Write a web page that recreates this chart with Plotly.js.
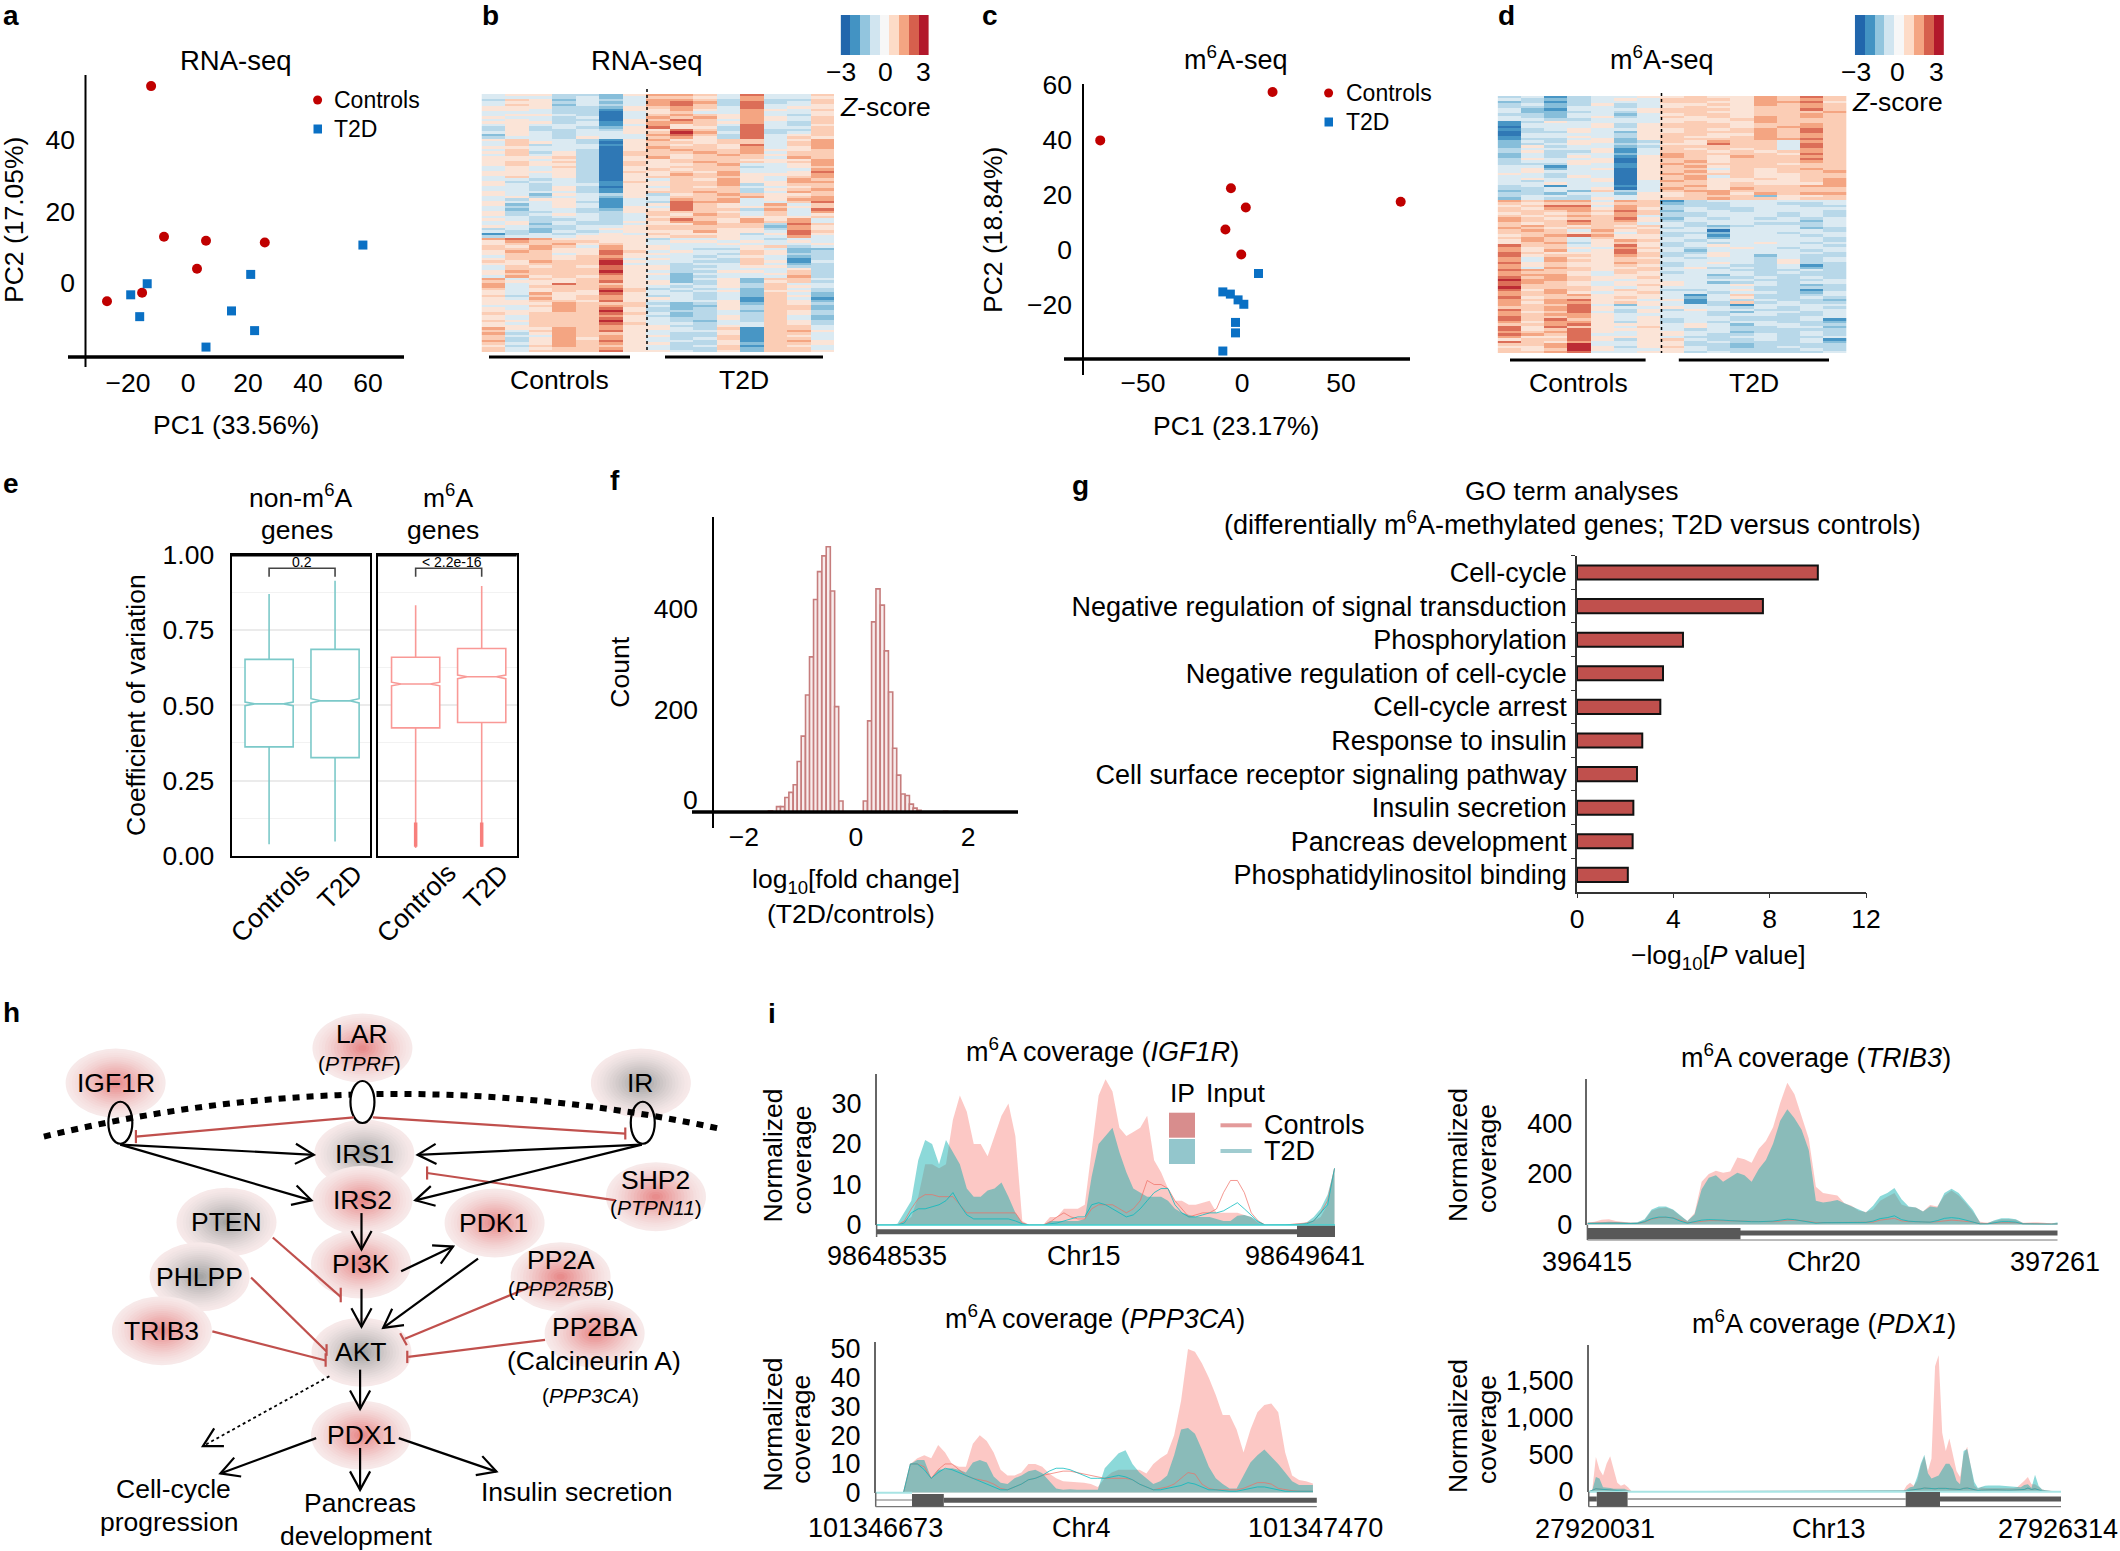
<!DOCTYPE html>
<html>
<head>
<meta charset="utf-8">
<script src="https://cdn.plot.ly/plotly-3.0.1.min.js"></script>
<style>
    html, body { margin: 0; padding: 0; background: #fff; }
    #fig { width: 2120px; height: 1551px; }
</style>
</head>
<body>
<div id="fig"></div>
<script>
// panel a, PCA of RNA-seq
const a_controls_pc1 = [-12.3, -8, 6, 25.6, 3, -15.3, -27];
const a_controls_pc2 = [55, 12.9, 11.8, 11.3, 4, -2.7, -5.1];
const a_t2d_pc1 = [58.3, 20.9, -13.6, -19.1, 14.5, -16.1, 22.2, 6];
const a_t2d_pc2 = [10.6, 2.4, -0.2, -3.3, -7.8, -9.4, -13.3, -17.9];

// panel c, PCA of m6A-seq
const c_controls_pc1 = [15.4, -71.6, -5.6, 1.9, 80.1, -8.4, -0.4];
const c_controls_pc2 = [57.5, 39.9, 22.5, 15.5, 17.6, 7.5, -1.6];
const c_t2d_pc1 = [8.3, -9.7, -5.9, -2, 0.9, -3.3, -3.3, -9.7];
const c_t2d_pc2 = [-8.5, -15.2, -16, -18.1, -19.7, -26.3, -30.1, -36.7];

// heatmaps, one digit per sample (index into z_levels), 7 controls then 8 T2D
const z_levels = [-2.7, -2.2, -1.6, -1.05, -0.55, 0.5, 0.95, 1.5, 2.1, 2.8];
const b_rows = [
    "4553325 77648446", "4443424 66547445", "3652434 77637336", "4553424 78738346",
    "4652434 78638445", "5553325 67648455", "5543315 57547546", "4443304 56447445",
    "4554304 67657435", "5443404 76757546", "4543305 68647546", "5553415 77657436",
    "4544414 75648435", "3534325 85538446", "3533435 58638336", "4543445 69748346",
    "2543444 78638456", "3443544 67538465", "5644315 75566457", "4654305 66566467",
    "4634415 65658467", "5544405 76657457", "4644305 67667556", "5635306 66767466",
    "4645306 65676566", "5556305 75666476", "5545305 56665557", "5656306 56766567",
    "5655306 55674457", "4546305 56663456", "4545305 65664447", "5555306 56574458",
    "5545305 57675557", "4645305 66665467", "4434305 46575476", "5344316 56675577",
    "5434415 56673566", "4435305 46564456", "4435315 56663567", "5444315 66763476",
    "5425435 35676556", "4534425 46667567", "4355414 47674577", "5445314 38774468",
    "5245414 58654746", "4345415 48655656", "4244325 58663748", "5334335 66654647",
    "5345434 65764645", "4434434 56665556", "5433434 68657574", "4534335 57757674",
    "4524334 55766386", "5433445 66666275", "3423455 66655375", "4324345 55755486",
    "1343454 65553585", "3444555 56654474", "7875555 34454344", "5766655 45545454",
    "5667565 44454445", "6576475 54445634", "6675575 54335422", "5765586 45446523",
    "5664585 54436533", "4665675 44345423", "5665684 54436413", "6576695 44336514",
    "5566694 43446423", "4656585 53345533", "4666685 53444453", "5766695 43355463",
    "5666685 52444563", "4756575 42344473", "7465675 42452664", "6555685 52352563",
    "7458665 54353644", "7466675 43453654", "6456686 34342643", "5456596 43452553",
    "5475585 44342642", "6365675 34342652", "5475675 54341641", "5566585 44451652",
    "5557666 32352653", "4467676 42253662", "5457685 32353662", "5557695 33342653",
    "6566686 42343653", "5466675 32353642", "5466685 43353642", "6566695 43243653",
    "5466686 44344653", "5566675 53354664", "7557675 54361664", "6467685 44451675",
    "7357665 43351664", "6447675 53361654", "6357575 43461664", "7357685 44351675",
    "6457675 53352665", "5367665 43461654", "6456675 43362664", "6466685 54352665"
];
const d_rows = [
    "3413445 56557686", "4323454 66657676", "2313444 66557785", "3423534 55657676",
    "3324434 56556676", "4214445 66656686", "4223435 66556667", "3324424 56656676",
    "4324534 65657676", "4433444 55567666", "1354444 56557666", "1444535 66656676",
    "0444535 66656776", "1345445 56567686", "0335425 56667686", "0444435 66557676",
    "1445435 65567676", "1334525 66667786", "2435523 65766476", "2345434 55866486",
    "2534423 66666486", "3444514 65656476", "3533514 66565676", "2434424 76666586",
    "2435415 76576676", "3544505 66566686", "3445505 67566676", "3335415 76666566",
    "4414415 67566666", "4524505 66465676", "4544405 67565667", "5434405 76665566",
    "4435405 67465566", "4544505 67556567", "4344504 76555567", "4454404 66565557",
    "3414414 67566677", "3344504 76576666", "2342634 67766666", "3324425 56757677",
    "3443445 56662556", "2433545 66766566", "7677476 13444444", "6566566 23344334",
    "5688476 33344433", "6577575 34334444", "6667686 24434443", "5656576 33444343",
    "6567674 33444343", "7656685 24343434", "7668675 34444424", "6567664 43443334",
    "6765656 43234434", "7656665 34344423", "6764756 44044443", "6665646 33244344",
    "5678755 34144434", "6764655 44244443", "5764576 43444443", "5673565 34345434",
    "8664585 34544443", "7565476 43454344", "7574585 42444434", "8655586 33544443",
    "8566576 34542433", "7475565 43443434", "7476566 44443534", "8565576 34543533",
    "7565565 34433413", "7476556 45343423", "8766566 44433343", "7665465 34443433",
    "7775455 44243333", "8676556 44334343", "9776545 44443334", "8765455 54234344",
    "8665456 54454323", "9666545 44443333", "8576565 33453313", "7675456 44344324",
    "7667555 41463334", "8566565 42453343", "7678554 51434332", "7577565 41363433",
    "7668425 44314444", "6678544 54434343", "8678535 35443344", "7568435 44324434",
    "7677544 44344334", "8667545 44433344", "8686545 34433341", "7577535 34344332",
    "6678555 45424433", "8586546 45433442", "8568555 43433333", "7678545 54423343",
    "8768445 54334343", "7558555 43344334", "5668535 64334341", "8657445 53433342",
    "6679445 53323333", "5579535 64323433", "6569544 54333343", "6678445 53433334"
];
const zscore_bands = [-3, -2.25, -1.5, -0.75, 0, 0.75, 1.5, 2.25, 3];

// panel e, coefficient of variation boxes (controls, T2D)
const e_non_q1 = [0.362, 0.326];
const e_non_median = [0.505, 0.515];
const e_non_q3 = [0.653, 0.686];
const e_non_low = [0.038, 0.047];
const e_non_high = [0.87, 0.914];
const e_non_notch = [0.006, 0.007];
const e_m6a_q1 = [0.425, 0.443];
const e_m6a_median = [0.571, 0.595];
const e_m6a_q3 = [0.66, 0.689];
const e_m6a_low = [0.026, 0.03];
const e_m6a_high = [0.833, 0.897];
const e_m6a_notch = [0.006, 0.006];

// panel f, histogram of log10 fold change
const f_bins = [-1.524, -1.381, -1.31, -1.232, -1.16, -1.083, -1.012, -0.94, -0.863, -0.792, -0.72, -0.649,
    -0.571, -0.494, -0.417, -0.345, -0.268, 0.167, 0.244, 0.315, 0.393, 0.47, 0.542, 0.619, 0.69, 0.762,
    0.839, 0.917, 0.988, 1.054, 1.125, 1.6];
const f_counts = [2, 10, 10, 28, 38, 53, 99, 149, 230, 305, 418, 473, 504, 522, 435, 207, 21,
    21, 179, 374, 439, 407, 317, 236, 125, 72, 35, 32, 15, 7, 3, 1];

// panel g, GO terms
const g_terms = ["Cell-cycle", "Negative regulation of signal transduction", "Phosphorylation",
    "Negative regulation of cell-cycle", "Cell-cycle arrest", "Response to insulin",
    "Cell surface receptor signaling pathway", "Insulin secretion", "Pancreas development",
    "Phosphatidylinositol binding"];
const g_values = [10.0, 7.72, 4.4, 3.57, 3.46, 2.71, 2.49, 2.34, 2.31, 2.11];

// panel i, coverage per position bin
const igf1r_window = [98648535, 98649641];
const igf1r_ip_controls = [0, 0, 0, 0, 1, 2, 7, 15, 15, 14, 15, 26, 32, 28, 20, 20, 17, 22, 27, 30, 22, 1, 0, 0, 0,
    2, 2, 4, 4, 4, 5, 19, 32, 36, 33, 24, 22, 23, 24, 27, 16, 13, 9, 6, 6, 5, 5, 5.5, 6, 3, 3, 3, 3, 2.5, 2, 0.5,
    0, 0, 0, 0, 0.2, 0.2, 0.3, 1, 2, 5, 14];
const igf1r_ip_t2d = [0, 0, 0, 0.3, 3, 6, 16, 21, 20, 15, 21, 18, 15, 9, 7, 7, 8.5, 9, 10.5, 7, 3, 0.5, 0, 0, 0,
    1, 1, 1, 1, 1, 1.5, 12, 20, 22, 24, 18, 13, 9, 8, 7, 7, 7, 6, 4, 3, 2.5, 2, 2, 2, 1.5, 1, 1, 2.3, 2.5, 2, 1,
    0, 0, 0, 0, 0.2, 0.2, 0.7, 2, 4, 7.5, 14];
const igf1r_input_controls = [0, 0, 0, 0, 1, 4, 6.5, 7.5, 7.5, 7, 7, 7, 5, 3, 3, 3, 3, 3, 3, 3, 3, 0.5, 0, 0, 0,
    0.7, 2, 3, 2, 1.5, 1.5, 4, 5, 5, 5, 4, 3, 4, 6, 11, 10, 10, 9, 6, 4, 2, 2.5, 3, 3, 4, 8, 11, 11, 8, 3, 1,
    0, 0, 0, 0, 0.2, 0.3, 0.5, 1, 3, 6, 14];
const igf1r_input_t2d = [0, 0, 0, 0, 0.5, 3, 4, 4, 4.5, 5, 6, 8, 5, 2.5, 1.5, 1.5, 1.5, 1.5, 1.5, 1.5, 1, 0.3, 0, 0, 0,
    0.3, 0.5, 1, 1.5, 2, 2, 5, 5.5, 5, 4, 3, 2, 2.5, 4, 6, 8, 9, 9, 5, 3, 2, 2, 2.5, 3, 3, 3.5, 4.5, 5.5, 4, 2.5, 0.8,
    0, 0, 0, 0, 0.1, 0.2, 0.3, 1, 3, 5, 14];

const trib3_window = [396415, 397261];
const trib3_ip_controls = [8, 12, 20, 22, 15, 13, 8, 9, 18, 55, 65, 68, 58, 35, 15, 45, 170, 200, 213, 205, 210, 265,
    258, 245, 300, 330, 385, 480, 560, 515, 430, 340, 150, 125, 120, 115, 85, 75, 55, 50, 60, 95, 110, 125, 80, 70,
    68, 52, 78, 72, 115, 135, 115, 85, 50, 12, 8, 15, 22, 22, 20, 8, 10, 10, 8, 5, 6];
const trib3_ip_t2d = [8, 8, 10, 12, 12, 10, 8, 10, 22, 60, 72, 72, 60, 38, 15, 40, 140, 185, 195, 170, 187, 205, 195,
    170, 220, 255, 320, 410, 456, 420, 375, 295, 95, 88, 92, 98, 85, 72, 58, 48, 75, 112, 125, 145, 100, 72, 68, 52,
    72, 68, 125, 142, 125, 92, 58, 8, 6, 18, 25, 25, 22, 7, 5, 6, 5, 5, 10];
const trib3_input_controls = [6, 7, 7, 7, 7, 6, 5, 5, 10, 22, 28, 29, 27, 16, 8, 10, 14, 16, 16, 16, 15, 14, 14, 13, 12,
    12, 12, 14, 18, 18, 16, 13, 8, 8, 8, 8, 10, 10, 10, 8, 10, 18, 22, 25, 15, 12, 12, 10, 10, 12, 16, 18, 16, 14, 10,
    4, 4, 6, 8, 8, 8, 4, 3, 3, 3, 3, 3];
const trib3_input_t2d = [5, 6, 6, 6, 6, 5, 5, 5, 12, 24, 30, 30, 26, 14, 6, 12, 18, 20, 20, 18, 16, 14, 14, 12, 12, 13,
    14, 18, 22, 20, 16, 12, 6, 8, 8, 8, 10, 9, 9, 9, 14, 24, 28, 35, 20, 14, 12, 10, 10, 16, 25, 28, 25, 18, 10, 3, 3,
    8, 12, 12, 10, 3, 2, 2, 2, 2, 3];

const ppp3ca_window = [101346673, 101347470];
const ppp3ca_ip_controls = [0, 0, 0, 0, 0, 10, 12, 13, 12, 16.6, 14, 10, 9, 9, 17, 20, 18, 14, 8, 6, 6, 7, 10, 10, 9,
    6.7, 5, 4, 3.8, 3.8, 3.5, 3, 2, 5, 7, 8, 8, 8, 8, 6.7, 10, 12, 13.5, 20, 32, 50, 49, 45, 40, 34, 27, 27, 22, 14,
    22, 28, 30.5, 31, 28, 14, 6, 4.4, 4, 3.2];
const ppp3ca_ip_t2d = [0, 0, 0, 0, 0, 10, 11.4, 11.4, 5, 8, 8.3, 8.5, 8, 7, 10.5, 11.4, 10.5, 5.6, 3.5, 3, 5, 6, 7.5, 8,
    6.8, 4, 1.5, 1, 1.2, 1, 1, 1, 1, 8.5, 11, 13.7, 14.8, 10, 7, 5, 3, 4, 6, 13, 22, 22.5, 20.5, 15, 9, 5, 3, 1.5, 1.5,
    6, 10.5, 13, 15, 12.5, 10, 7, 4, 2.7, 2.7, 2.7];
const ppp3ca_input_controls = [0, 0, 0, 0, 0, 10, 10, 9, 5, 8, 10, 10, 8, 6, 5, 4.5, 4, 3, 1.5, 1, 2, 3, 4.5, 5, 6, 6.5,
    7, 7.5, 7.5, 7, 6.5, 6, 5.5, 5, 5, 5, 5, 4.5, 3, 2, 1, 1.5, 2, 3, 5, 7, 6.5, 3, 1.5, 1, 1, 1, 1, 1.5, 2.5, 3.5, 3.5,
    3, 1.5, 1, 0.7, 0.5, 0.5, 0.5];
const ppp3ca_input_t2d = [0, 0, 0, 0, 0, 10, 10, 8, 5, 7, 8.5, 8, 7, 6, 5, 4, 3, 2, 1, 1, 2, 3, 4.5, 5, 6, 7.5, 8.5, 8.5,
    8, 7, 6, 5, 5, 5, 5.5, 6, 5.5, 4.5, 3, 2, 1, 1, 1.5, 2, 2.5, 3.5, 3, 2, 1, 1, 0.7, 0.5, 0.5, 1, 1.5, 2, 2, 1.5, 1,
    0.5, 0.5, 0.5, 0.5, 0.5];

const pdx1_window = [27920031, 27926314];
const pdx1_gap_bins = 76;    // no coverage across the intron
const pdx1_exon1_controls = [0, 30, 470, 300, 220, 380, 480, 300, 120, 80, 100, 60, 5];
const pdx1_exon1_t2d = [0, 20, 200, 180, 60, 60, 50, 40, 40, 40, 40, 20, 5];
const pdx1_exon1_input = [0, 20, 40, 35, 30, 30, 25, 20, 15, 15, 10, 5, 0];
const pdx1_exon2_controls = [80, 120, 80, 150, 350, 480, 280, 450, 1700, 1850, 800, 550, 720, 500, 280, 200, 500, 610,
    350, 80, 40, 60, 50, 50, 45, 50, 45, 50, 40, 45, 50, 60, 100, 150, 200, 100, 100, 60, 30, 20, 20, 10, 0];
const pdx1_exon2_t2d = [30, 60, 70, 200, 380, 500, 250, 180, 200, 220, 300, 380, 380, 300, 150, 100, 550, 580, 350, 130,
    50, 70, 80, 85, 90, 85, 85, 80, 70, 75, 60, 60, 60, 90, 100, 50, 230, 80, 30, 20, 10, 10, 0];
const pdx1_exon2_input = [10, 20, 25, 30, 40, 50, 45, 40, 40, 45, 50, 45, 40, 35, 30, 30, 45, 50, 40, 25, 15, 20, 25, 25,
    25, 25, 20, 20, 20, 20, 20, 20, 25, 30, 50, 30, 40, 20, 10, 5, 5, 0, 0];

const W = 2120, H = 1551;
const FONT = "Liberation Sans";
const BASE = 26.5;
const RED = "#c00000", BLUE = "#0a70c4";
const OVERLAY = 15;   // hidden full-size axes in figure pixels, for text and the pathway

let traces = [];
let shapes = [];
let annotations = [];
let layout = {
    width: W, height: H,
    margin: { l: 0, r: 0, t: 0, b: 0 },
    paper_bgcolor: "#fff", plot_bgcolor: "rgba(0,0,0,0)",
    showlegend: false,
    font: { family: FONT, size: BASE, color: "#000" },
    shapes: shapes,
    annotations: annotations,
};

function axis_key(letter, n) { return letter + "axis" + (n == 1 ? "" : n); }
function axis_id(letter, n) { return letter + (n == 1 ? "" : n); }

function add_axes(n, left, top, right, bottom, x_settings, y_settings)
{
    layout[axis_key("x", n)] = Object.assign({
        domain: [left / W, right / W], anchor: axis_id("y", n), zeroline: false, showgrid: false, ticks: "",
    }, x_settings);
    layout[axis_key("y", n)] = Object.assign({
        domain: [1 - bottom / H, 1 - top / H], anchor: axis_id("x", n), zeroline: false, showgrid: false, ticks: "",
    }, y_settings);
}

function text(x, y, str, settings)
{
    settings = settings || {};
    annotations.push({
        xref: "x" + OVERLAY, yref: "y" + OVERLAY, x: x, y: y, text: str, showarrow: false,
        xanchor: settings.anchor || "center", yanchor: "middle", textangle: settings.angle || 0,
        font: { family: FONT, size: settings.size || BASE, color: "#000" }, borderpad: 0,
    });
}

function px_shape(shape)
{
    shape.xref = "x" + OVERLAY;
    shape.yref = "y" + OVERLAY;
    shapes.push(shape);
}

function line(x0, y0, x1, y1, color, width, dash)
{
    px_shape({ type: "line", x0, y0, x1, y1, line: { color, width, dash: dash || "solid" } });
}

function rect(x0, y0, x1, y1, color)
{
    px_shape({ type: "rect", x0, y0, x1, y1, fillcolor: color, line: { width: 0 } });
}

function ellipse(cx, cy, rx, ry, fill, stroke, stroke_width)
{
    px_shape({
        type: "circle", x0: cx - rx, x1: cx + rx, y0: cy - ry, y1: cy + ry,
        fillcolor: fill, line: { color: stroke || fill, width: stroke_width || 0 },
    });
}

// ---------- PCA panels ----------
function pca_panel(n, controls_x, controls_y, t2d_x, t2d_y)
{
    traces.push({ type: "scatter", mode: "markers", x: controls_x, y: controls_y, xaxis: axis_id("x", n), yaxis: axis_id("y", n),
        marker: { symbol: "circle", size: 10, color: RED } });
    traces.push({ type: "scatter", mode: "markers", x: t2d_x, y: t2d_y, xaxis: axis_id("x", n), yaxis: axis_id("y", n),
        marker: { symbol: "square", size: 9, color: BLUE } });
}

add_axes(1, 86, 75, 404, 357,
    { range: [-34, 72], tickvals: [-20, 0, 20, 40, 60], ticklabelstandoff: 7, tickfont: { size: BASE } },
    { range: [-20.67, 58.1], tickvals: [0, 20, 40], ticklabelstandoff: 10, tickfont: { size: BASE } });
pca_panel(1, a_controls_pc1, a_controls_pc2, a_t2d_pc1, a_t2d_pc2);
line(68, 357, 404, 357, "#000", 3.5);
line(85.5, 75, 85.5, 367, "#000", 2);
text(236, 60, "RNA-seq", { size: 27.5 });
text(236, 425, "PC1 (33.56%)");
text(14, 220, "PC2 (17.05%)", { angle: -90 });
ellipse(317.6, 100, 4.5, 4.5, RED);
rect(313.5, 124.5, 322, 133.5, BLUE);
text(333, 100, "Controls", { anchor: "left", size: 23 });
text(333, 129, "T2D", { anchor: "left", size: 23 });

add_axes(3, 1083, 84, 1410, 359,
    { range: [-80.3, 84.8], tickvals: [-50, 0, 50], ticklabelstandoff: 5, tickfont: { size: BASE } },
    { range: [-39.6, 60.4], tickvals: [-20, 0, 20, 40, 60], ticklabelstandoff: 10, tickfont: { size: BASE } });
pca_panel(3, c_controls_pc1, c_controls_pc2, c_t2d_pc1, c_t2d_pc2);
line(1064, 359, 1410, 359, "#000", 3.5);
line(1083, 84, 1083, 375, "#000", 2);
text(1236, 58, "m<sup>6</sup>A-seq", { size: 27 });
text(1236, 426, "PC1 (23.17%)");
text(993, 230, "PC2 (18.84%)", { angle: -90 });
ellipse(1328.6, 93, 4.5, 4.5, RED);
rect(1324.5, 117.5, 1333, 126.5, BLUE);
text(1345, 93, "Controls", { anchor: "left", size: 23 });
text(1345, 122, "T2D", { anchor: "left", size: 23 });

// ---------- heatmaps ----------
const RDBU = [[0, "#2166ac"], [0.125, "#4393c3"], [0.25, "#92c5de"], [0.375, "#d1e5f0"], [0.5, "#f7f7f7"],
    [0.625, "#fddbc7"], [0.75, "#f4a582"], [0.875, "#d6604d"], [1, "#b2182b"]];

function digits_to_z(rows)
{
    return rows.map(row => row.replace(" ", "").split("").map(d => z_levels[Number(d)]));
}

function heatmap_panel(n, left, top, right, bottom, rows)
{
    let z = digits_to_z(rows);
    add_axes(n, left, top, right, bottom,
        { visible: false, range: [-0.5, 14.5] },
        { visible: false, range: [z.length - 0.5, -0.5] });
    traces.push({ type: "heatmap", z: z, xaxis: axis_id("x", n), yaxis: axis_id("y", n),
        colorscale: RDBU, zmin: -3, zmax: 3, showscale: false, xgap: 0, ygap: 0 });
}

function zscore_bar(n, left, right, tick_x, label_y)
{
    add_axes(n, left, 15, right, 55,
        { visible: false, range: [-0.5, 8.5] },
        { visible: false, range: [-0.5, 0.5] });
    traces.push({ type: "heatmap", z: [zscore_bands], xaxis: axis_id("x", n), yaxis: axis_id("y", n),
        colorscale: RDBU, zmin: -3, zmax: 3, showscale: false });
    text(tick_x[0], 72, "\u22123");
    text(tick_x[1], 72, "0");
    text(tick_x[2], 72, "3");
    text(tick_x[1], label_y, "<i>Z</i>-score");
}

heatmap_panel(2, 481.5, 94, 834, 352, b_rows);
zscore_bar(13, 840.6, 929, [841, 885, 923.5], 107);
line(647, 89, 647, 350, "#000", 1.5, "dot");
text(647, 60, "RNA-seq", { size: 27.5 });
line(489, 357, 630, 357, "#000", 3);
line(665, 357, 823, 357, "#000", 3);
text(559, 380, "Controls");
text(744, 380, "T2D");

heatmap_panel(4, 1497.6, 96, 1846.5, 353, d_rows);
zscore_bar(14, 1854.8, 1944, [1856, 1897.5, 1936], 102);
line(1661.5, 93, 1661.5, 353, "#000", 1.5, "dot");
text(1661.5, 58, "m<sup>6</sup>A-seq", { size: 27 });
line(1510, 360, 1645.6, 360, "#000", 3);
line(1678.8, 360, 1829, 360, "#000", 3);
text(1578, 383, "Controls");
text(1754, 383, "T2D");

// ---------- panel e, boxes ----------
function box_panel(n, left, right, q1, median, q3, low, high, notch, color, y_settings)
{
    add_axes(n, left, 555, right, 855.7,
        { range: [-0.57, 1.53], tickvals: [0, 1], showticklabels: false, showline: true, mirror: true, linecolor: "#000", linewidth: 2 },
        Object.assign({
            range: [0, 1], tickvals: [0, 0.25, 0.5, 0.75, 1], showgrid: true, gridcolor: "#ebebeb", gridwidth: 2,
            minor: { tickvals: [0.125, 0.375, 0.625, 0.875], showgrid: true, gridcolor: "#f2f2f2", gridwidth: 1 },
            showline: true, mirror: true, linecolor: "#000", linewidth: 2,
        }, y_settings));
    traces.push({
        type: "box", x: [0, 1], q1: q1, median: median, q3: q3, lowerfence: low, upperfence: high,
        notched: true, notchspan: notch, notchwidth: 0.2, width: 0.73, whiskerwidth: 0,
        boxpoints: false, fillcolor: "#fff", line: { color: color, width: 1.6 },
        xaxis: axis_id("x", n), yaxis: axis_id("y", n),
    });
}

box_panel(5, 231.5, 370, e_non_q1, e_non_median, e_non_q3, e_non_low, e_non_high, e_non_notch, "#7cc9c9",
    { tickformat: ".2f", ticklabelstandoff: 10, tickfont: { size: BASE } });
box_panel(6, 378, 516.7, e_m6a_q1, e_m6a_median, e_m6a_q3, e_m6a_low, e_m6a_high, e_m6a_notch, "#f99996",
    { showticklabels: false });

// outlier runs at the foot of the m6A whiskers
traces.push({ type: "scatter", mode: "lines", x: [0, 0], y: [0.03, 0.11], xaxis: "x6", yaxis: "y6", line: { color: "#f77f7c", width: 3.5 } });
traces.push({ type: "scatter", mode: "lines", x: [1, 1], y: [0.03, 0.11], xaxis: "x6", yaxis: "y6", line: { color: "#f77f7c", width: 3.5 } });

function bracket(n, label, label_x)
{
    shapes.push({
        type: "path", xref: axis_id("x", n), yref: axis_id("y", n), path: "M 0 0.928 L 0 0.956 L 1 0.956 L 1 0.928",
        line: { color: "#444", width: 1.6 },
    });
    text(label_x, 561.5, label, { size: 14 });
}
bracket(5, "0.2", 302);
bracket(6, "&lt; 2.2e-16", 452);
line(231.5, 555, 370, 555, "#000", 3);
line(378, 555, 516.7, 555, "#000", 3);

text(136, 705, "Coefficient of variation", { angle: -90 });
text(300, 496, "non-m<sup>6</sup>A");
text(297, 530, "genes");
text(448, 496, "m<sup>6</sup>A");
text(443, 530, "genes");
text(270, 903, "Controls", { angle: -45 });
text(340, 887, "T2D", { angle: -45 });
text(416.5, 903, "Controls", { angle: -45 });
text(486, 887, "T2D", { angle: -45 });

// ---------- panel f, histogram ----------
add_axes(7, 713, 517, 1018, 811.7,
    { range: [-2.55, 2.89], tickvals: [-2, 0, 2], ticklabelstandoff: 7, tickfont: { size: BASE } },
    { range: [0, 580.7], tickvals: [200, 400], ticklabelstandoff: 14, tickfont: { size: BASE } });
traces.push({ type: "bar", x: f_bins, y: f_counts, width: 0.0732, xaxis: "x7", yaxis: "y7",
    marker: { color: "#f8ecec", line: { color: "#c67d7d", width: 1.6 } } });
line(692, 812, 1018, 812, "#000", 3.5);
line(713, 517, 713, 828, "#000", 2);
text(698.5, 800, "0", { anchor: "right" });
text(620, 672.7, "Count", { angle: -90 });
text(855.6, 881, "log<sub>10</sub>[fold change]");
text(851, 914, "(T2D/controls)");

// ---------- panel g, GO terms ----------
add_axes(8, 1577, 555.7, 1866, 891.7,
    { range: [0, 12], tickvals: [0, 4, 8, 12], ticks: "outside", ticklen: 5, tickcolor: "#333", showline: true, linecolor: "#333", linewidth: 1.5,
      ticklabelstandoff: -2, tickfont: { size: BASE } },
    { type: "category", autorange: "reversed", tickson: "boundaries", ticks: "outside", ticklen: 4, tickcolor: "#333",
      showline: true, linecolor: "#333", linewidth: 1.5, ticklabelstandoff: 3, tickfont: { size: 27 } });
traces.push({ type: "bar", orientation: "h", y: g_terms, x: g_values, width: 0.42, xaxis: "x8", yaxis: "y8",
    marker: { color: "#c0504d", line: { color: "#111", width: 2 } } });
text(1572.4, 491, "GO term analyses");
text(1572.4, 523, "(differentially m<sup>6</sup>A-methylated genes; T2D versus controls)", { size: 27 });
text(1718, 957, "\u2212log<sub>10</sub>[<i>P</i> value]");

// ---------- panel h, pathway ----------
const NODE_RED = [232, 140, 140], NODE_GRAY = [165, 165, 165], NODE_EDGE = [247, 233, 233];

function node(cx, cy, center)
{
    let steps = 16;
    for (let i = 0; i < steps; i++)
    {
        let t = i / (steps - 1);
        let c = NODE_EDGE.map((edge, k) => Math.round(edge + (center[k] - edge) * Math.pow(t, 1.3)));
        ellipse(cx, cy, 50 * (1 - 0.92 * t), 34.5 * (1 - 0.92 * t), "rgb(" + c.join(",") + ")");
    }
}

// zoomed panel coordinates to figure pixels
function hx(x) { return x / 2.119; }
function hy(y) { return 980 + y / 2.746; }

function arrow(x0, y0, x1, y1, dash)
{
    x0 = hx(x0); y0 = hy(y0); x1 = hx(x1); y1 = hy(y1);
    let angle = Math.atan2(y1 - y0, x1 - x0);
    let len = 21, spread = 0.5;
    let ax = x1 - len * Math.cos(angle - spread), ay = y1 - len * Math.sin(angle - spread);
    let bx = x1 - len * Math.cos(angle + spread), by = y1 - len * Math.sin(angle + spread);
    line(x0, y0, x1, y1, "#000", dash ? 1.8 : 2.2, dash);
    px_shape({ type: "path", path: `M ${ax} ${ay} L ${x1} ${y1} L ${bx} ${by}`, line: { color: "#000", width: 2.2 } });
}

function inhibit(x0, y0, x1, y1, bar_x0, bar_y0, bar_x1, bar_y1)
{
    line(hx(x0), hy(y0), hx(x1), hy(y1), "#c0504d", 2.2);
    line(hx(bar_x0), hy(bar_y0), hx(bar_x1), hy(bar_y1), "#c0504d", 2.2);
}

node(hx(768), hy(187), NODE_RED);    // LAR
node(hx(245), hy(283), NODE_RED);    // IGF1R
node(hx(1358), hy(283), NODE_GRAY);  // IR
node(hx(772), hy(478), NODE_GRAY);   // IRS1
node(hx(768), hy(605), NODE_RED);    // IRS2
node(hx(1390), hy(595), NODE_RED);   // SHP2
node(hx(480), hy(665), NODE_GRAY);   // PTEN
node(hx(1048), hy(667), NODE_RED);   // PDK1
node(hx(765), hy(780), NODE_RED);    // PI3K
node(hx(423), hy(815), NODE_GRAY);   // PHLPP
node(hx(1188), hy(815), NODE_RED);   // PP2A
node(hx(343), hy(963), NODE_RED);    // TRIB3
node(hx(1260), hy(970), NODE_RED);   // PP2BA
node(hx(766), hy(1022), NODE_GRAY);  // AKT
node(hx(765), hy(1250), NODE_RED);   // PDX1

// membrane and receptors
px_shape({ type: "path", path: `M ${hx(93)} ${hy(430)} Q ${hx(800)} ${hy(208)} ${hx(1520)} ${hy(407)}`,
    line: { color: "#000", width: 6, dash: "7px,7px" } });
ellipse(hx(255), hy(392), 12, 21, "rgba(0,0,0,0)", "#000", 2.2);
ellipse(hx(768), hy(335), 12, 21, "#fff", "#000", 2.2);
ellipse(hx(1362), hy(392), 12, 21, "rgba(0,0,0,0)", "#000", 2.2);

inhibit(750, 377, 288, 430, 288, 412, 288, 448);
inhibit(790, 377, 1325, 422, 1325, 405, 1325, 438);
inhibit(1305, 605, 905, 530, 905, 512, 905, 548);
inhibit(578, 707, 722, 870, 722, 845, 722, 885);
inhibit(532, 817, 692, 1020, 692, 1000, 692, 1032);
inhibit(450, 965, 690, 1045, 690, 1025, 690, 1062);
inhibit(1125, 842, 858, 985, 848, 970, 862, 1003);
inhibit(1155, 988, 865, 1035, 863, 1018, 863, 1052);

arrow(255, 452, 665, 480);
arrow(255, 452, 660, 605);
arrow(1360, 452, 885, 480);
arrow(1360, 452, 880, 605);
arrow(766, 640, 766, 740);
arrow(850, 800, 960, 732);
arrow(766, 848, 766, 952);
arrow(1013, 765, 812, 955);
arrow(763, 1070, 763, 1178);
arrow(698, 1088, 430, 1280, "dot");
arrow(670, 1258, 467, 1355);
arrow(763, 1285, 763, 1400);
arrow(845, 1258, 1052, 1350);

text(hx(245), hy(283), "IGF1R");
text(hx(768), hy(148), "LAR");
text(hx(762), hy(228), "(<i>PTPRF</i>)", { size: 21 });
text(hx(1358), hy(283), "IR");
text(hx(772), hy(478), "IRS1");
text(hx(768), hy(605), "IRS2");
text(hx(1390), hy(550), "SHP2");
text(hx(1390), hy(625), "(<i>PTPN11</i>)", { size: 21 });
text(hx(480), hy(665), "PTEN");
text(hx(1046), hy(667), "PDK1");
text(hx(765), hy(780), "PI3K");
text(hx(423), hy(815), "PHLPP");
text(hx(1188), hy(770), "PP2A");
text(hx(1188), hy(847), "(<i>PPP2R5B</i>)", { size: 20.5 });
text(hx(343), hy(963), "TRIB3");
text(hx(1260), hy(952), "PP2BA");
text(hx(1258), hy(1045), "(Calcineurin A)");
text(hx(1252), hy(1140), "(<i>PPP3CA</i>)", { size: 21 });
text(hx(766), hy(1022), "AKT");
text(hx(765), hy(1250), "PDX1");
text(hx(367), hy(1397), "Cell-cycle");
text(hx(358), hy(1488), "progression");
text(hx(763), hy(1437), "Pancreas");
text(hx(755), hy(1527), "development");
text(hx(1222), hy(1405), "Insulin secretion");

// ---------- panel i, coverage tracks ----------
function bin_positions(window_range, bp_per_bin, count)
{
    let x = [];
    for (let i = 0; i < count; i++)
        x.push(window_range[0] + i * bp_per_bin);
    return x;
}

function coverage_panel(n, box, window_range, bp_per_bin, y_max, y_ticks, ip_controls, ip_t2d, input_controls, input_t2d)
{
    add_axes(n, box[0], box[1], box[2], box[3],
        { visible: false, range: window_range },
        { range: [0, y_max], tickvals: y_ticks, tickformat: ",d", showline: true, linecolor: "#666", linewidth: 1.5,
          ticklabelstandoff: 8, tickfont: { size: 27 } });
    let x = bin_positions(window_range, bp_per_bin, ip_controls.length);
    let xa = axis_id("x", n), ya = axis_id("y", n);
    traces.push({ type: "scatter", mode: "lines", x, y: ip_controls, xaxis: xa, yaxis: ya, fill: "tozeroy",
        fillcolor: "rgba(248,118,109,0.4)", line: { width: 0 } });
    traces.push({ type: "scatter", mode: "lines", x, y: ip_t2d, xaxis: xa, yaxis: ya, fill: "tozeroy",
        fillcolor: "rgba(0,170,170,0.45)", line: { width: 0 } });
    traces.push({ type: "scatter", mode: "lines", x, y: input_controls, xaxis: xa, yaxis: ya,
        line: { width: 1, color: "rgba(240,110,100,0.7)" } });
    traces.push({ type: "scatter", mode: "lines", x, y: input_t2d, xaxis: xa, yaxis: ya,
        line: { width: 1, color: "rgba(0,185,190,0.75)" } });
}

coverage_panel(9, [876.6, 1074, 1335, 1225], igf1r_window, 16.74, 37.3, [0, 10, 20, 30],
    igf1r_ip_controls, igf1r_ip_t2d, igf1r_input_controls, igf1r_input_t2d);
coverage_panel(10, [1587.4, 1079.3, 2057.5, 1224.7], trib3_window, 12.85, 574, [0, 200, 400],
    trib3_ip_controls, trib3_ip_t2d, trib3_input_controls, trib3_input_t2d);
coverage_panel(11, [875.7, 1341.7, 1316.8, 1492.7], ppp3ca_window, 12.54, 52.5, [0, 10, 20, 30, 40, 50],
    ppp3ca_ip_controls, ppp3ca_ip_t2d, ppp3ca_input_controls, ppp3ca_input_t2d);

let pdx1_gap = new Array(pdx1_gap_bins).fill(0);
coverage_panel(12, [1588.75, 1345, 2061, 1491.7], pdx1_window, 47.5, 1988, [0, 500, 1000, 1500],
    pdx1_exon1_controls.concat(pdx1_gap, pdx1_exon2_controls), pdx1_exon1_t2d.concat(pdx1_gap, pdx1_exon2_t2d),
    pdx1_exon1_input.concat(pdx1_gap, pdx1_exon2_input), pdx1_exon1_input.concat(pdx1_gap, pdx1_exon2_input));

const GENE = "#585858";

function track_labels(title, title_x, title_y, y_title_x, y_title_y, left_label, left_x, mid_label, mid_x, right_label, right_x, label_y)
{
    text(title_x, title_y, title, { size: 27 });
    text(y_title_x[0], y_title_y, "Normalized", { angle: -90 });
    text(y_title_x[1], y_title_y + 4, "coverage", { angle: -90 });
    text(left_x, label_y, left_label, { size: 27 });
    text(mid_x, label_y, mid_label, { size: 27 });
    text(right_x, label_y, right_label, { size: 27 });
}

// IGF1R
track_labels("m<sup>6</sup>A coverage (<i>IGF1R</i>)", 1102, 1050, [772.5, 801.6], 1156,
    "98648535", 886.6, "Chr15", 1083.5, "98649641", 1305, 1256);
line(876.6, 1225, 1335, 1225, "#3fd0d0", 1.5);
line(876.6, 1225, 876.6, 1237, "#666", 1.5);
line(876.6, 1231.7, 1297, 1231.7, GENE, 5);
rect(1297, 1225.7, 1335, 1237, GENE);

text(1182, 1093, "IP");
text(1236, 1093, "Input");
rect(1169, 1112.7, 1195, 1137.7, "#d88d8d");
rect(1169, 1139, 1195, 1164, "#93c6cc");
line(1220.5, 1125.3, 1251.7, 1125.3, "#e39a9a", 4);
line(1220.5, 1151, 1251.7, 1151, "#a0ccd0", 4);
text(1263.4, 1125, "Controls", { anchor: "left", size: 27 });
text(1263.4, 1151, "T2D", { anchor: "left", size: 27 });

// TRIB3
track_labels("m<sup>6</sup>A coverage (<i>TRIB3</i>)", 1816.4, 1056, [1458, 1487], 1155,
    "396415", 1587.4, "Chr20", 1824, "397261", 2055, 1261.7);
line(1587.4, 1224.7, 1587.4, 1240, "#666", 1.5);
line(1587.4, 1233, 2057.5, 1233, GENE, 5);
line(1587.4, 1240, 2057.5, 1240, "#777", 1.2);
rect(1587.4, 1228, 1740.5, 1239.3, GENE);

// PPP3CA
track_labels("m<sup>6</sup>A coverage (<i>PPP3CA</i>)", 1094.7, 1317, [772.5, 800.7], 1425,
    "101346673", 875.3, "Chr4", 1081.7, "101347470", 1315.5, 1528);
line(875.7, 1492.7, 912, 1492.7, "#a8e4e4", 2);
line(875.7, 1492.7, 875.7, 1506.7, "#666", 1.5);
line(875.7, 1500, 912, 1500, "#777", 1.2);
line(875.7, 1506.7, 1316.8, 1506.7, "#777", 1.2);
line(943.8, 1500.3, 1316.8, 1500.3, GENE, 5);
rect(912, 1494, 943.8, 1506.7, GENE);

// PDX1
track_labels("m<sup>6</sup>A coverage (<i>PDX1</i>)", 1824, 1322, [1458, 1487], 1426,
    "27920031", 1595, "Chr13", 1829, "27926314", 2058, 1529.3);
line(1588.75, 1491.7, 2061, 1491.7, "#a8e4e4", 2);
line(1588.75, 1491.7, 1588.75, 1506.7, "#666", 1.5);
line(1627.6, 1499, 1905.7, 1499, "#888", 1.5);
line(1588.75, 1499, 1596.8, 1499, GENE, 5);
line(1940, 1499, 2061, 1499, GENE, 5);
line(1588.75, 1506.7, 2061, 1506.7, "#777", 1.2);
rect(1596.8, 1492, 1627.6, 1506.7, GENE);
rect(1905.7, 1492, 1940, 1506.7, GENE);

// ---------- panel letters ----------
const panel_letters = [["a", 2, 15], ["b", 481, 15], ["c", 981, 15], ["d", 1497, 15], ["e", 2, 483],
    ["f", 609, 480], ["g", 1071, 485], ["h", 2, 1012], ["i", 767, 1013]];
for (let [letter, x, y] of panel_letters)
    text(x, y, "<b>" + letter + "</b>", { anchor: "left", size: 28 });

// overlay axes need a trace of their own
add_axes(OVERLAY, 0, 0, W, H, { visible: false, range: [0, W] }, { visible: false, range: [H, 0] });
traces.push({ type: "scatter", mode: "markers", x: [0], y: [0], xaxis: "x" + OVERLAY, yaxis: "y" + OVERLAY, marker: { size: 1, opacity: 0 } });

Plotly.newPlot("fig", traces, layout, { displayModeBar: false, responsive: false });
</script>
</body>
</html>
